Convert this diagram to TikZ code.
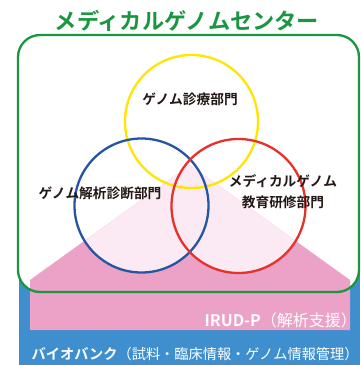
\documentclass[tikz,border=0pt]{standalone}
\usepackage{fontspec}
\newfontfamily\jp{Noto Sans CJK JP}[BoldFont={Noto Sans CJK JP Bold}]
\definecolor{cgreen}{HTML}{1A9641}
\definecolor{cblue}{HTML}{3F8FCE}
\definecolor{cpink}{HTML}{ECA1C6}
\definecolor{clpink}{HTML}{FBEAF3}
\definecolor{cyel}{HTML}{FFE500}
\definecolor{ccblue}{HTML}{2456A4}
\definecolor{cred}{HTML}{E8312A}
\definecolor{ctext}{HTML}{231815}
\begin{document}
\begin{tikzpicture}[x=1pt,y=-1pt,
  ring/.style={line width=2.3pt},
  lbl/.style={text=ctext,font=\jp\bfseries\fontsize{13.7}{16}\selectfont,align=center,inner sep=0pt},
  wlbl/.style={text=white,font=\jp\fontsize{14.2}{16}\selectfont,inner sep=0pt}]
\useasboundingbox (0,0) rectangle (360,365);
% biobank
\fill[cblue] (19,250) rectangle (360,365);
% centre background
\fill[white,rounded corners=22pt] (18,35) rectangle (359,292);
% IRUD-P
\fill[cpink] (30,330) -- (30,280) -- (190,165) -- (350,280) -- (350,330) -- cycle;
\begin{scope}
  \clip (30,330) -- (30,280) -- (190,165) -- (350,280) -- (350,330) -- cycle;
  \fill[clpink] (141.5,205.5) circle[radius=67pt];
  \fill[clpink] (238.5,206) circle[radius=67pt];
  \fill[clpink] (191.5,121.5) circle[radius=66.5pt];
\end{scope}
% circles
\draw[ring,cyel] (191.5,121.5) circle[radius=66.5pt];
\draw[ring,ccblue] (141.5,205.5) circle[radius=67pt];
\draw[ring,cred] (238.5,206) circle[radius=67pt];
% centre frame
\draw[cgreen,line width=2.3pt,rounded corners=22pt] (18,35) rectangle (359,292);
% texts
\node[text=cgreen,font=\jp\bfseries\fontsize{22.2}{24}\selectfont,inner sep=0pt] (title) at (187,21) {メディカルゲノムセンター};
\node[lbl] (c1) at (190,99) {ゲノム診療部門};
\node[lbl] (c2) at (100,193) {ゲノム解析診断部門};
\node[lbl] (c3) at (283,192) {メディカルゲノム\\[5pt]教育研修部門};
\node[text=white,font=\jp\fontsize{16}{18}\selectfont,inner sep=0pt,anchor=east] (irud) at (357,320) {\bfseries IRUD-P\mdseries（解析支援）};
\node[wlbl,anchor=west] (bb) at (31.5,354) {\bfseries バイオバンク\mdseries（試料・臨床情報・ゲノム情報管理）};
\end{tikzpicture}
\end{document}
